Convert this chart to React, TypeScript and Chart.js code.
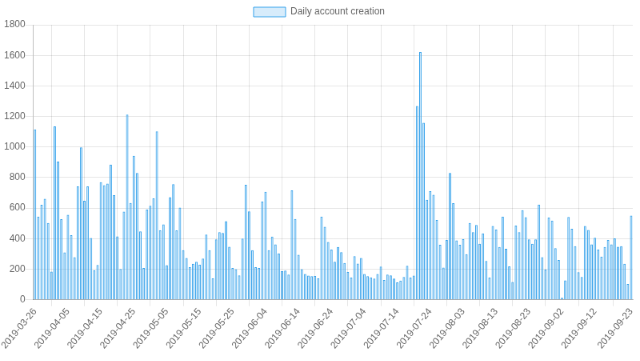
import React, { useEffect, useRef } from "react";
import { Chart, registerables } from "chart.js";

Chart.register(...registerables);

const START_DATE = "2019-03-26";
const DAY_COUNT = 182;

const accountValues: number[] = [
  1115, 545, 622, 661, 502, 185, 1135, 905, 528, 310, 556, 423, 279, 742, 997, 648, 742, 404, 192, 227, 770, 750, 760,
  885, 685, 415, 202, 577, 1212, 634, 942, 830, 448, 208, 590, 615, 663, 1102, 454, 494, 226, 672, 757, 454,
  604, 325, 274, 213, 235, 248, 230, 270, 426, 325, 140, 395, 443, 437, 514, 347, 208, 200,
  160, 400, 753, 579, 325, 213, 208, 643, 707, 325, 413, 362, 303, 187, 191, 165, 716, 529, 294, 200, 169, 158, 154, 156, 140,
  544, 478, 378, 329, 248, 345, 312, 241, 182, 145, 285, 237, 274, 169, 154, 147, 138, 169, 217, 129, 165,
  160, 138, 114, 125, 149, 222, 145, 158, 1269, 1622, 1159, 654, 711, 687, 522, 360, 211, 391, 830, 632, 389,
  360, 397, 299, 503, 443, 489, 367, 435, 254, 145, 483, 459, 345, 544, 334, 219, 116, 485, 443, 586, 540, 395,
  367, 395, 623, 279, 198, 538, 518, 338, 261, 13, 127, 542, 465, 351, 180, 149, 483, 457, 362, 406, 329,
  283, 345, 391, 362, 402, 347, 351, 235, 103, 551,
];

const dateLabels: string[] = [];
{
  const d0 = new Date(START_DATE + "T00:00:00Z");
  for (let i = 0; i < DAY_COUNT; i++) {
    const d = new Date(d0.getTime() + i * 86400000);
    dateLabels.push(d.toISOString().slice(0, 10));
  }
}

const FONT = "'Liberation Sans', Arial, Helvetica, sans-serif";

export default function App() {
  const ref = useRef<HTMLCanvasElement | null>(null);
  useEffect(() => {
    if (!ref.current) return;
    const n = dateLabels.length;
    const chart = new Chart(ref.current, {
      type: "bar",
      data: {
        labels: dateLabels,
        datasets: [
          {
            label: "Daily account creation",
            data: accountValues,
            backgroundColor: "rgba(54, 162, 235, 0.2)",
            borderColor: "rgba(54, 162, 235, 1)",
            borderWidth: 1,
          },
        ],
      },
      options: {
        responsive: false,
        animation: false,
        devicePixelRatio: 1,
        layout: { padding: { left: 5, right: 7, top: 0, bottom: 12 } },
        plugins: {
          legend: {
            labels: {
              boxWidth: 40,
              boxHeight: 12,
              color: "#666",
              font: { family: FONT, size: 12 },
              padding: 9,
            },
          },
          tooltip: { enabled: false },
        },
        scales: {
          x: {
            grid: { color: "rgba(0,0,0,0.1)", offset: true, tickLength: 8 },
            border: { color: "rgba(0,0,0,0.25)" },
            ticks: {
              autoSkip: false,
              minRotation: 50,
              maxRotation: 50,
              padding: 0,
              color: "#666",
              font: { family: FONT, size: 12 },
              callback: function (this: any, value: any, index: number) {
                const show = (index % 10 === 0 && index + 10 < n) || index === n - 1;
                return show ? dateLabels[index] : null;
              },
            },
          },
          y: {
            min: 0,
            max: 1800,
            grid: { color: "rgba(0,0,0,0.1)", tickLength: 10 },
            border: { color: "rgba(0,0,0,0.25)" },
            ticks: {
              stepSize: 200,
              padding: 0,
              color: "#666",
              font: { family: FONT, size: 12 },
              callback: (v: any) => String(v),
            },
          },
        },
      },
    });
    return () => chart.destroy();
  }, []);
  return (
    <div style={{ position: "absolute", left: 0, top: 0, width: 640, height: 361, overflow: "hidden" }}>
      <div style={{ width: 800, height: 451, transform: "scale(0.8)", transformOrigin: "0 0" }}>
        <canvas ref={ref} width={800} height={451} style={{ width: 800, height: 451, display: "block" }} />
      </div>
    </div>
  );
}
